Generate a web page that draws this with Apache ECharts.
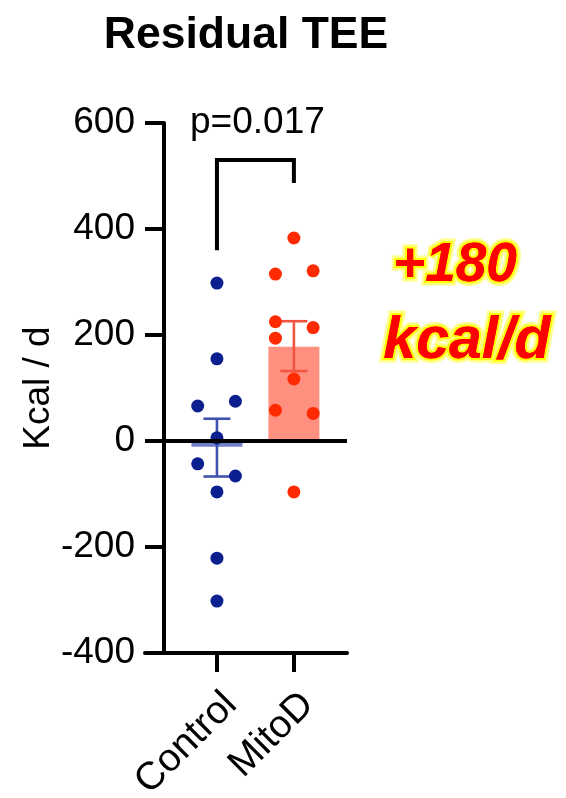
<!DOCTYPE html>
<html>
<head>
<meta charset="utf-8">
<script src="https://cdn.jsdelivr.net/npm/echarts@6/dist/echarts.min.js"></script>
<style>html,body{margin:0;padding:0;background:#fff}#c{width:566px;height:798px}</style>
</head>
<body>
<div id="c"></div>
<script>
var categories = ['Control', 'MitoD'];
var categoryPos = [1, 2];
var controlValues = [298, 155, 75, 66, 6, -43, -66, -96, -221, -302];
var controlJitter = [0, 0, 0.24, -0.25, 0, -0.25, 0.24, 0, 0, 0];
var mitoValues = [383, 321, 315, 225, 214, 194, 117, 58, 52, -96];
var mitoJitter = [0, 0.25, -0.24, -0.24, 0.25, -0.24, 0, -0.24, 0.25, 0];
var means = [-11, 178];
var errLow = [-67, 132];
var errHigh = [42, 226];
var yTicks = [-400, -200, 0, 200, 400, 600];
var bracketY = [360, 530, 487];
var pText = 'p=0.017';
var annotation = ['+180', 'kcal/d'];

var FONT = '"Liberation Sans", Arial, Helvetica, sans-serif';
var pointColors = ['#0b1f8f', '#ff2a00'];
var barColors = ['#6f7fc8', '#ff8f7f'];
var errColors = ['#3f52ad', '#f2553f'];

function pts(vals, jit, base) {
  return vals.map(function (v, i) { return [base + jit[i], v]; });
}

function glowText(txt, x, y, size) {
  var font = 'italic bold ' + size + 'px ' + FONT;
  return [
    {type: 'text', x: x, y: y, z: 100,
     style: {text: txt, align: 'center', verticalAlign: 'middle', fill: '#ffff66', font: font,
       stroke: '#ffff66', lineWidth: 9, shadowBlur: 10, shadowColor: '#ffff00', opacity: 0.75}},
    {type: 'text', x: x, y: y, z: 101,
     style: {text: txt, align: 'center', verticalAlign: 'middle', fill: '#ff0000', font: font,
       stroke: '#ffff00', lineWidth: 4}},
    {type: 'text', x: x, y: y, z: 102,
     style: {text: txt, align: 'center', verticalAlign: 'middle', fill: '#ff0000', font: font}}
  ];
}

var chart = echarts.init(document.getElementById('c'), null, {renderer: 'canvas'});
chart.setOption({
  animation: false,
  backgroundColor: '#ffffff',
  title: {
    text: 'Residual TEE',
    left: 241, top: 8,
    textAlign: 'center',
    textStyle: {fontFamily: FONT, fontWeight: 'bold', fontSize: 44.5, color: '#000'}
  },
  grid: {left: 145, right: 219, top: 123, bottom: 145, outerBoundsMode: 'none', containLabel: false},
  xAxis: {
    type: 'value', min: 0.065, max: 2.69,
    axisLine: {onZero: false, lineStyle: {color: '#000', width: 4}},
    axisTick: {customValues: categoryPos, length: 19, lineStyle: {color: '#000', width: 4}},
    axisLabel: {
      customValues: categoryPos,
      formatter: function (v) { return categories[Math.round(v) - 1]; },
      rotate: 45, verticalAlign: 'top', margin: 32,
      fontFamily: FONT, fontSize: 39, color: '#000'
    },
    splitLine: {show: false}
  },
  yAxis: {
    type: 'value', min: yTicks[0], max: yTicks[yTicks.length - 1], interval: 200,
    offset: -19,
    name: 'Kcal / d', nameLocation: 'middle', nameGap: 107,
    nameTextStyle: {fontFamily: FONT, fontSize: 37, color: '#000'},
    axisLine: {onZero: false, lineStyle: {color: '#000', width: 4}},
    axisTick: {length: 19, lineStyle: {color: '#000', width: 4}},
    axisLabel: {margin: 29, fontFamily: FONT, fontSize: 37, color: '#000'},
    splitLine: {show: false}
  },
  graphic: glowText(annotation[0], 455, 266, 55).concat(glowText(annotation[1], 467, 342, 59)),
  series: [
    {
      type: 'bar', barWidth: 51, z: 1,
      data: categoryPos.map(function (x, i) {
        return {value: [x, means[i]], itemStyle: {color: barColors[i]}};
      }),
      markLine: {
        silent: true, symbol: 'none', label: {show: false},
        lineStyle: {color: '#000', width: 4, type: 'solid'},
        data: [{yAxis: 0}]
      }
    },
    {
      type: 'custom', z: 3,
      data: categoryPos.map(function (x, i) { return [x, errLow[i], errHigh[i], i]; }),
      renderItem: function (params, api) {
        var lo = api.coord([api.value(0), api.value(1)]);
        var hi = api.coord([api.value(0), api.value(2)]);
        var c = errColors[api.value(3)];
        var hw = 13.5;
        var st = {stroke: c, lineWidth: 2.6};
        return {type: 'group', children: [
          {type: 'line', shape: {x1: lo[0], y1: lo[1], x2: hi[0], y2: hi[1]}, style: st},
          {type: 'line', shape: {x1: lo[0] - hw, y1: lo[1], x2: lo[0] + hw, y2: lo[1]}, style: st},
          {type: 'line', shape: {x1: hi[0] - hw, y1: hi[1], x2: hi[0] + hw, y2: hi[1]}, style: st}
        ]};
      }
    },
    {
      type: 'scatter', symbolSize: 13, z: 4,
      itemStyle: {color: pointColors[0], opacity: 1},
      data: pts(controlValues, controlJitter, categoryPos[0])
    },
    {
      type: 'scatter', symbolSize: 13, z: 4,
      itemStyle: {color: pointColors[1], opacity: 1},
      data: pts(mitoValues, mitoJitter, categoryPos[1])
    },
    {
      type: 'custom', z: 5,
      data: [[categoryPos[0], categoryPos[1], bracketY[0], bracketY[1], bracketY[2]]],
      renderItem: function (params, api) {
        var a = api.coord([api.value(0), api.value(2)]);
        var b = api.coord([api.value(0), api.value(3)]);
        var c = api.coord([api.value(1), api.value(3)]);
        var d = api.coord([api.value(1), api.value(4)]);
        var t = api.coord([(api.value(0) + api.value(1)) / 2, yTicks[yTicks.length - 1]]);
        return {type: 'group', children: [
          {type: 'polyline', shape: {points: [a, b, c, d]},
           style: {stroke: '#000', lineWidth: 4, fill: null, lineJoin: 'miter'}},
          {type: 'text', x: t[0] + 2, y: t[1],
           style: {text: pText, align: 'center', verticalAlign: 'middle',
             font: '37px ' + FONT, fill: '#000'}}
        ]};
      }
    }
  ]
});
</script>
</body>
</html>
